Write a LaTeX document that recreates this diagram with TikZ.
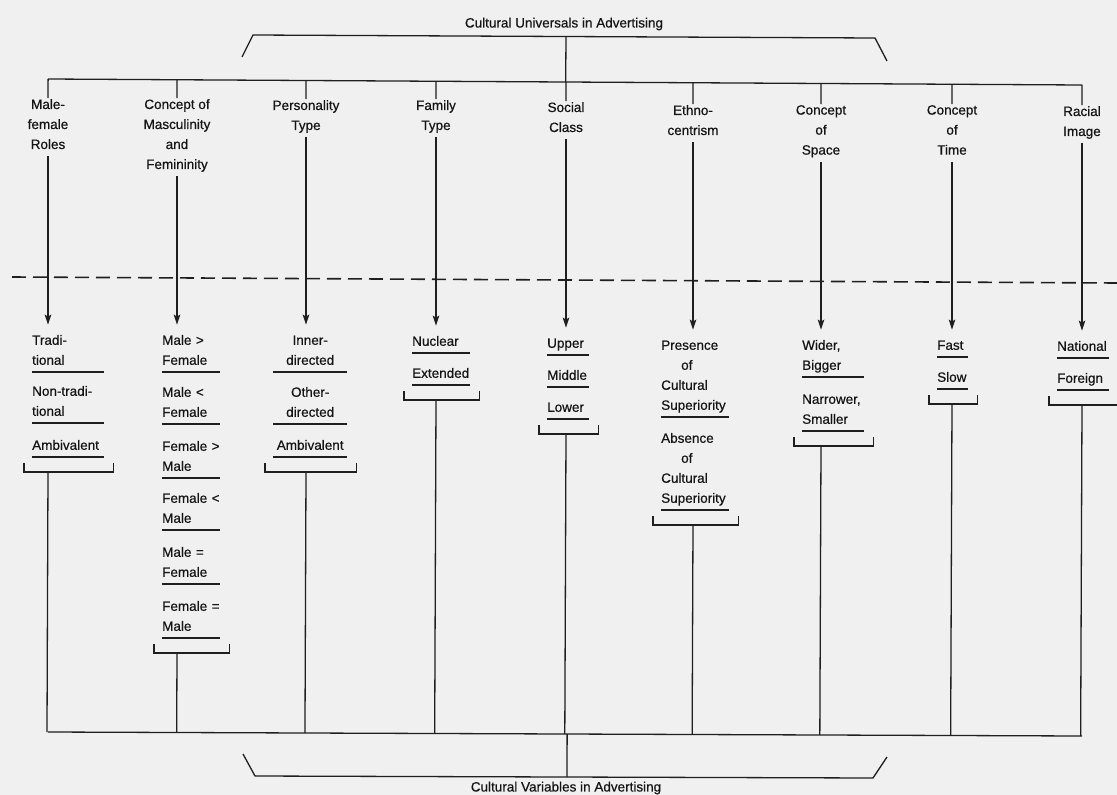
\documentclass[tikz,border=0pt]{standalone}
\usepackage{fontspec}
\setmainfont{Liberation Sans}[FakeBold=0.5]
\usetikzlibrary{arrows.meta,calc}

% bracket under a column's last option, with the stem down to the lower bus
\newcommand\mybracket[2]{%
  \draw[rule] ([shift={(-8pt,-6pt)}]#1.south west)
     -- ([shift={(-8pt,-15pt)}]#1.south west) coordinate (#1-bl)
     -- ([shift={(9pt,-15pt)}]#1.south east)
     -- ([shift={(9pt,-6pt)}]#1.south east);
  \coordinate (#1-stem) at (#2 |- #1-bl);
  \draw[rule] (#1-stem) -- ($(botL)!(#1-stem)!(botR)$);
}

\begin{document}
\begin{tikzpicture}[x=1pt,y=-1pt,
  every node/.style={font=\fontsize{13.5}{20}\selectfont, text=black!92},
  rule/.style={draw=black!88, line width=1.3pt},
  head/.style={anchor=north, align=center, inner xsep=2pt, inner ysep=1pt,
    execute at begin node=\strut, execute at end node=\strut},
  opt/.style={anchor=south west, align=left, inner xsep=0pt, inner ysep=1pt,
    execute at begin node=\strut, execute at end node=\strut},
  title/.style={inner sep=1pt},
  tip/.style={-{Stealth[length=10pt,width=6.5pt,inset=2pt]}, shorten >=5pt}]

% page and paper tone
\useasboundingbox (0,0) rectangle (1117,795);
\fill[black!6] (0,0) rectangle (1117,795);

% ---- upper heading and bracket
\node[title] (tu) at (564,24) {Cultural Universals in Advertising};
\coordinate (tj) at (566,36.5);
\draw[rule] (242,57) -- (253,35) -- (875,38) -- (887,61);

% buses and divider
\coordinate (busL) at (48,79);
\coordinate (busR) at (1082,85);
\coordinate (botL) at (48,732);
\coordinate (botR) at (1082,736);
\draw[rule] (busL) -- (busR);
\draw[rule] (tj) -- ($(busL)!(tj)!(busR)$);
\draw[rule] (botL) -- (botR);
\draw[draw=black!88, line width=1.6pt, dash pattern=on 14pt off 7pt] (12,277) -- (1117,283);

% ---- universals
\node[head] (h1) at (48,98)    {Male-\\female\\Roles};
\node[head] (h2) at (177,98)   {Concept of\\Masculinity\\and\\Femininity};
\node[head] (h3) at (306,99)   {Personality\\Type};
\node[head] (h4) at (436,99)   {Family\\Type};
\node[head] (h5) at (566,101)  {Social\\Class};
\node[head] (h6) at (693,104)  {Ethno-\\centrism};
\node[head] (h7) at (821,104)  {Concept\\of\\Space};
\node[head] (h8) at (952,104)  {Concept\\of\\Time};
\node[head] (h9) at (1082,105) {Racial\\Image};

% ---- variables
\node[opt, text width=72pt] (a11) at (32,372) {Tradi-\\tional};
\node[opt, text width=72pt] (a12) at (32,423) {Non-tradi-\\tional};
\node[opt, text width=72pt] (a13) at (32,457) {Ambivalent};

\node[opt, text width=58pt] (a21) at (162,372) {Male >\\Female};
\node[opt, text width=58pt] (a22) at (162,424) {Male <\\Female};
\node[opt, text width=58pt] (a23) at (162,478) {Female >\\Male};
\node[opt, text width=58pt] (a24) at (162,530) {Female <\\Male};
\node[opt, text width=58pt] (a25) at (162,584) {Male =\\Female};
\node[opt, text width=58pt] (a26) at (162,638) {Female =\\Male};

\node[opt, align=center, text width=74pt] (a31) at (273,372) {Inner-\\directed};
\node[opt, align=center, text width=74pt] (a32) at (273,424) {Other-\\directed};
\node[opt, align=center, text width=74pt] (a33) at (273,457) {Ambivalent};

\node[opt, text width=58pt] (a41) at (412,353) {Nuclear};
\node[opt, text width=58pt] (a42) at (412,385) {Extended};

\node[opt, text width=42pt] (a51) at (547,355) {Upper};
\node[opt, text width=42pt] (a52) at (547,387) {Middle};
\node[opt, text width=42pt] (a53) at (547,419) {Lower};

\node[opt, text width=68pt] (a61) at (661,417) {Presence\\\hspace*{20pt}of\\Cultural\\Superiority};
\node[opt, text width=68pt] (a62) at (661,510) {Absence\\\hspace*{20pt}of\\Cultural\\Superiority};

\node[opt, text width=62pt] (a71) at (802,377) {Wider,\\Bigger};
\node[opt, text width=62pt] (a72) at (802,431) {Narrower,\\Smaller};

\node[opt, text width=31pt] (a81) at (937,357) {Fast};
\node[opt, text width=31pt] (a82) at (937,389) {Slow};

\node[opt, text width=52pt] (a91) at (1057,358) {National};
\node[opt, text width=52pt] (a92) at (1057,390) {Foreign};

% underlines of the options
\foreach \n in {a11,a12,a13,a21,a22,a23,a24,a25,a26,a31,a32,a33,a41,a42,
                a51,a52,a53,a61,a62,a71,a72,a81,a82,a91,a92}
  \draw[rule] (\n.south west) -- (\n.south east);

% connectors from the upper bus through each universal to its options
\foreach \c/\a in {h1/a11,h2/a21,h3/a31,h4/a41,h5/a51,h6/a61,h7/a71,h8/a81,h9/a91} {
  \draw[rule] ($(busL)!(\c.north)!(busR)$) -- (\c.north);
  \draw[rule, tip] (\c.south) -- (\c.south |- \a.north);
}

% brackets and stems to the lower bus
\mybracket{a13}{h1}
\mybracket{a26}{h2}
\mybracket{a33}{h3}
\mybracket{a42}{h4}
\mybracket{a53}{h5}
\mybracket{a62}{h6}
\mybracket{a72}{h7}
\mybracket{a82}{h8}
\mybracket{a92}{h9}

% ---- lower bracket and heading
\coordinate (bj) at (567,777);
\draw[rule] ($(botL)!(bj)!(botR)$) -- (bj);
\draw[rule] (243,754) -- (255,776) -- (873,778) -- (887,757);
\node[title] (tv) at (566,788) {Cultural Variables in Advertising};

\end{tikzpicture}
\end{document}
